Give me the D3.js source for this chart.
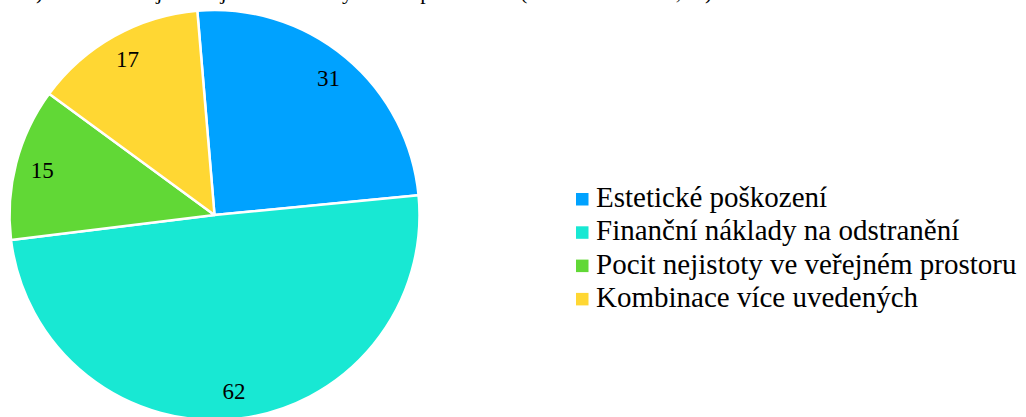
<!DOCTYPE html>
<html>
<head>
<meta charset="utf-8">
<script src="https://cdn.jsdelivr.net/npm/d3@7"></script>
<style>
  body { margin: 0; background: #fff; }
  svg { display: block; font-family: "Liberation Serif", "Times New Roman", serif; }
</style>
</head>
<body>
<svg id="chart" width="1026" height="417"></svg>
<script>
// data
const categories = ['Estetické poškození', 'Finanční náklady na odstranění', 'Pocit nejistoty ve veřejném prostoru', 'Kombinace více uvedených'];
const values = [31, 62, 15, 17];
const colors = ['#00a2ff', '#18e8d3', '#61d836', '#ffd733'];
// title is cut off at the top edge of the picture, only descenders show
const titleText = '12) Co vnímáte jako největší důsledky tohoto problému? (absolutní četnost, %)';

const svg = d3.select('#chart');
const cx = 214.5, cy = 215, radius = 205;

svg.append('text')
    .attr('x', 14)
    .attr('y', -1.5)
    .attr('font-size', 22)
    .attr('fill', '#000')
    .text(titleText);

const color = d3.scaleOrdinal().domain(categories).range(colors);

// first slice starts a little left of 12 o'clock
const pie = d3.pie().sort(null).value(d => d.value).startAngle(-0.084).endAngle(-0.084 + 2 * Math.PI);
const data = categories.map((c, i) => ({ name: c, value: values[i] }));
const arcs = pie(data);

const arc = d3.arc().innerRadius(0).outerRadius(radius);
const labelArc = d3.arc().innerRadius(178).outerRadius(178);

const g = svg.append('g').attr('transform', `translate(${cx},${cy})`);

g.selectAll('path.slice')
    .data(arcs)
    .enter()
    .append('path')
    .attr('class', 'slice')
    .attr('d', arc)
    .attr('fill', d => color(d.data.name))
    .attr('stroke', '#fff')
    .attr('stroke-width', 2.5)
    .attr('stroke-linejoin', 'round');

g.selectAll('text.lbl')
    .data(arcs)
    .enter()
    .append('text')
    .attr('class', 'lbl')
    .attr('transform', d => `translate(${labelArc.centroid(d)})`)
    .attr('text-anchor', 'middle')
    .attr('dominant-baseline', 'central')
    .attr('font-size', 23)
    .text(d => d.data.value);

// legend
const legend = svg.append('g').attr('transform', 'translate(576,193)');
const rowH = 33.3;

const rows = legend.selectAll('g.row')
    .data(categories)
    .enter()
    .append('g')
    .attr('class', 'row')
    .attr('transform', (d, i) => `translate(0,${i * rowH})`);

rows.append('rect')
    .attr('width', 12.5)
    .attr('height', 12.5)
    .attr('fill', d => color(d));

rows.append('text')
    .attr('x', 20)
    .attr('y', 14)
    .attr('font-size', 29)
    .text(d => d);
</script>
</body>
</html>
